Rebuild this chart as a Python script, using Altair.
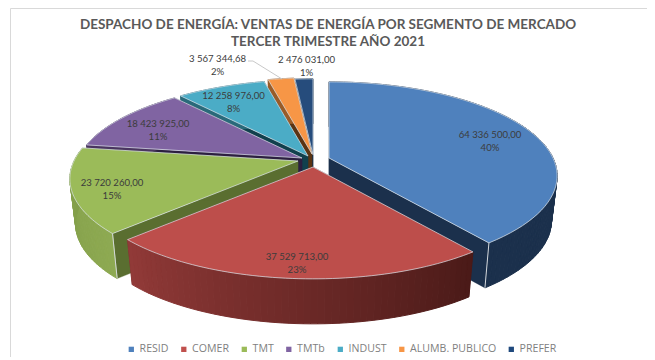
import math
import altair as alt

# ---- data
SEGMENTS = ["RESID", "COMER", "TMT", "TMTb", "INDUST", "ALUMB. PUBLICO", "PREFER"]
VALUES = [64336500.00, 37529713.00, 23720260.00, 18423925.00, 12258976.00, 3567344.68, 2476031.00]
VALUE_TEXT = ["64 336 500,00", "37 529 713,00", "23 720 260,00", "18 423 925,00",
              "12 258 976,00", "3 567 344,68", "2 476 031,00"]
PCT_TEXT = ["40%", "23%", "15%", "11%", "8%", "2%", "1%"]
TITLE = ["DESPACHO DE ENERGÍA: VENTAS DE ENERGÍA POR SEGMENTO DE MERCADO",
         "TERCER TRIMESTRE AÑO 2021"]

# ---- styling
TOP = ["#4f81bd", "#bd4e4b", "#9bbb59", "#8064a2", "#4bacc6", "#f79646", "#264c7c"]
LEGEND = ["#4f81bd", "#c0504d", "#9bbb59", "#8064a2", "#4bacc6", "#f79646", "#1f497d"]
CUT = ["#1b304c", "#4a1a18", "#5a6e30", "#2c1f40", "#11404d", "#5b3413", "#17304f"]
WALL_A = ["#1b304c", "#4a1a18", "#8eaa52", "#4a3560", "#2a6a7a", "#9a5c28", "#17304f"]
WALL_B = ["#1b304c", "#923a38", "#7f9b47", "#4a3560", "#2a6a7a", "#9a5c28", "#17304f"]

# ---- layout: the explode offset of each slice and the perspective of the tilted disc
APEX = [(329, 158), (313, 167), (298, 161), (302, 158), (308, 156), (312, 154), (313, 155)]
# where the first line of each two-line label sits
LABEL_AT = [(490, 135), (297, 257), (112, 183), (158, 124), (233.5, 96), (217.5, 59), (306.5, 60)]
TITLE_AT = (328, 24.5)
FRAME = [(10.5, 357), (10.5, 8.5), (647, 8.5)]
LEADER = [(248, 61), (253, 61), (282, 79)]
FR, KR, PR = 224.0, 90.6, 0.19
DEPTH, SHRINK = 45.0, 0.975


def rim(t):
    a = math.radians(t)
    d = 1 + PR * math.cos(a)
    return FR * math.sin(a) / d, -KR * math.cos(a) / d


def lower(ap, p):
    return (ap[0] + p[0] * SHRINK, ap[1] + p[1] + DEPTH)


def mix(c1, c2, f):
    a = [int(c1[i:i + 2], 16) for i in (1, 3, 5)]
    b = [int(c2[i:i + 2], 16) for i in (1, 3, 5)]
    return "#%02x%02x%02x" % tuple(round(x + (y - x) * f) for x, y in zip(a, b))


def poly(points, fill, stroke=None, sw=1.0):
    ring = [list(p) for p in points] + [list(points[0])]
    return {"type": "Feature",
            "geometry": {"type": "Polygon", "coordinates": [ring]},
            "properties": {"fill": fill, "stroke": stroke or fill, "sw": sw}}


def line(points, color):
    return {"type": "Feature",
            "geometry": {"type": "LineString", "coordinates": [list(p) for p in points]},
            "properties": {"c": color}}


total = sum(VALUES)
bounds, acc = [], 0.0
for v in VALUES:
    bounds.append((acc / total * 360, (acc + v) / total * 360))
    acc += v

features, edges = [], []
for i in [6, 5, 4, 3, 0, 2, 1]:        # painter's order, back to front
    t1, t2 = bounds[i]
    ap = APEX[i]
    top = lambda p: (ap[0] + p[0], ap[1] + p[1])
    for t in (t1, t2):
        p = rim(t)
        features.append(poly([ap, top(p), lower(ap, p), (ap[0], ap[1] + DEPTH)], CUT[i], sw=0.3))
    n = max(2, int((t2 - t1) / 1.5))
    for k in range(n):
        a = t1 + (t2 - t1) * k / n
        b = t1 + (t2 - t1) * (k + 1) / n
        pa, pb = rim(a), rim(b)
        features.append(poly([top(pa), top(pb), lower(ap, pb), lower(ap, pa)],
                             mix(WALL_A[i], WALL_B[i], (k + 0.5) / n)))
    arc = [top(rim(t1 + (t2 - t1) * k / 60)) for k in range(61)]
    features.append(poly([ap] + arc, TOP[i], "#dfe6ee", 0.7))

# lit corner edges of the walls
for i, t in ((0, bounds[0][1]), (2, bounds[2][0])):
    p = rim(t)
    ap = APEX[i]
    edges.append(line([(ap[0] + p[0], ap[1] + p[1]), lower(ap, p)], "#d4d8dc"))
edges.append(line(LEADER, "#c8c8c8"))
edges.append(line(FRAME, "#d9d9d9"))

labels = [{"longitude": x, "latitude": y, "label": f"{a}\n{b}"}
          for (x, y), a, b in zip(LABEL_AT, VALUE_TEXT, PCT_TEXT)]

proj = dict(type="identity", scale=1, translate=[-8, -8])

faces = alt.Chart(alt.Data(values=features)).mark_geoshape().encode(
    fill=alt.Fill("properties.fill:N", scale=None),
    stroke=alt.Stroke("properties.stroke:N", scale=None),
    strokeWidth=alt.StrokeWidth("properties.sw:Q", scale=None),
).project(**proj)

rules = alt.Chart(alt.Data(values=edges)).mark_geoshape(
    filled=False, strokeWidth=1
).encode(stroke=alt.Stroke("properties.c:N", scale=None)).project(**proj)

texts = alt.Chart(alt.Data(values=labels)).mark_text(
    font="Lato", fontSize=9.6, color="#3c3c3c", lineBreak="\n", lineHeight=12.5,
    align="center", baseline="middle"
).encode(longitude="longitude:Q", latitude="latitude:Q", text="label:N").project(**proj)

title_layer = alt.Chart(alt.Data(values=[
    {"longitude": TITLE_AT[0], "latitude": TITLE_AT[1], "label": "\n".join(TITLE)}
])).mark_text(
    font="Lato", fontSize=13.5, fontWeight="bold", color="#595959", lineBreak="\n", lineHeight=17.5,
    align="center", baseline="middle"
).encode(longitude="longitude:Q", latitude="latitude:Q", text="label:N").project(**proj)

legend_layer = alt.Chart(alt.Data(values=[{"s": s} for s in SEGMENTS])).mark_square(size=0).encode(
    x=alt.value(-50), y=alt.value(-50),
    color=alt.Color("s:N",
                    scale=alt.Scale(domain=SEGMENTS, range=LEGEND),
                    sort=SEGMENTS,
                    legend=alt.Legend(title=None, orient="none", direction="horizontal",
                                      columns=7, legendX=118, legendY=336,
                                      symbolType="square", symbolSize=28, symbolOpacity=1,
                                      labelFont="Open Sans", labelFontSize=10.6, labelColor="#7f7f7f",
                                      labelOffset=3, columnPadding=9.5, labelLimit=200)),
)

chart = alt.layer(faces, rules, texts, title_layer, legend_layer).properties(
    width=639, height=349,
    padding=0,
    autosize=alt.AutoSizeParams(type="none"),
).configure_view(stroke=None)

chart.save("out.html", embed_options={"renderer": "svg", "actions": False})
